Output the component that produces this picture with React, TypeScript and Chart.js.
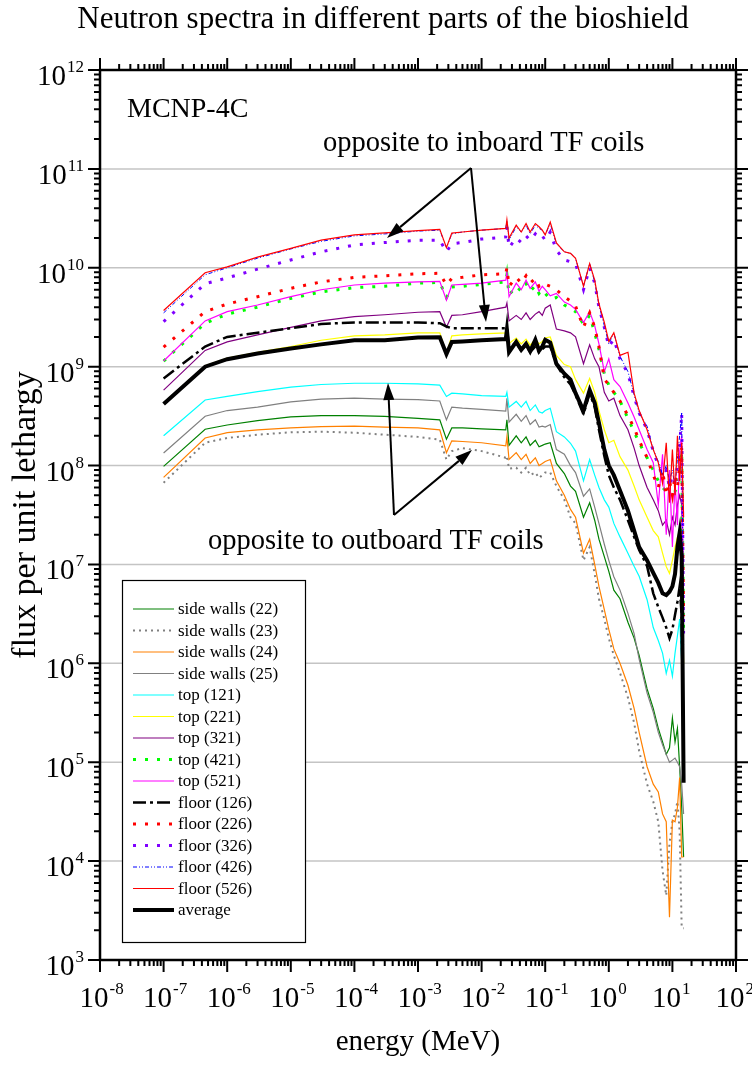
import React, { useEffect, useRef } from 'react';
import { Chart, registerables } from 'chart.js';

Chart.register(...registerables);

// ---------------- data ----------------
const energy = [
  1e-7, 4.5e-7, 1e-6, 3e-6, 1e-5, 3e-5, 1e-4, 3e-4, 1e-3, 2.2e-3,
  2.8e-3, 3.4e-3, 5e-3, 1e-2, 2.4e-2, 2.5e-2, 2.7e-2, 3.5e-2, 4.2e-2, 5e-2,
  5.8e-2, 7e-2, 8e-2, 9e-2, 0.1, 0.12, 0.15, 0.2, 0.25, 0.3,
  0.4, 0.5, 0.6, 0.7, 0.85, 1.0, 1.2, 1.5, 2.0, 2.5,
  3.0, 4.0, 5.0, 6.0, 7.0, 8.0, 9.0, 10, 11, 12,
  13, 14, 15,
];

const sideWalls22 = [
  9.8e7, 2.33e8, 2.57e8, 2.85e8, 3.1e8, 3.2e8, 3.2e8, 3.15e8, 3.0e8, 2.9e8,
  1.85e8, 2.4e8, 2.4e8, 2.35e8, 2.3e8, 2.9e8, 1.6e8, 2.0e8, 1.7e8, 1.95e8,
  1.6e8, 1.8e8, 1.55e8, 1.6e8, 1.65e8, 1.7e8, 1.05e8, 8.3e7, 6.2e7, 5.5e7,
  3.0e7, 4.2e7, 2.8e7, 1.8e7, 1.2e7, 8.5e6, 5.5e6, 4.5e6, 2.6e6, 1.8e6,
  1.2e6, 5.5e5, 3.5e5, 2.2e5, 1.6e5, 1.2e5, 1.4e5, 2.8e5, 1.6e5, 2.2e5,
  9e4, 3.5e4, 1.1e4,
];
const sideWalls23 = [
  6.7e7, 1.7e8, 1.9e8, 2.05e8, 2.17e8, 2.2e8, 2.15e8, 2.05e8, 1.95e8, 1.83e8,
  1.15e8, 1.4e8, 1.5e8, 1.4e8, 1.2e8, 1.25e8, 9.3e7, 9.5e7, 8.5e7, 9.5e7,
  8e7, 8.5e7, 7.5e7, 8e7, 8.5e7, 8.5e7, 6.2e7, 4.5e7, 3.0e7, 2.6e7,
  1.1e7, 1.5e7, 8e6, 4.5e6, 2.8e6, 1.8e6, 1.2e6, 8e5, 4.5e5, 2.5e5,
  1.3e5, 6e4, 4e4, 2.5e4, 8e3, 4.5e3, 1.5e4, 2.5e4, 3e4, 4e4,
  2e4, 2.1e3, 2.1e3,
];
const sideWalls24 = [
  7.6e7, 1.9e8, 2.15e8, 2.3e8, 2.4e8, 2.48e8, 2.5e8, 2.45e8, 2.4e8, 2.3e8,
  1.35e8, 1.78e8, 1.75e8, 1.7e8, 1.58e8, 1.95e8, 1.15e8, 1.35e8, 1.15e8, 1.3e8,
  1.05e8, 1.2e8, 1.0e8, 1.05e8, 1.1e8, 1.15e8, 7.0e7, 5.0e7, 3.6e7, 3.0e7,
  1.3e7, 1.8e7, 1.0e7, 6e6, 3.5e6, 2.2e6, 1.4e6, 1.0e6, 6e5, 3.5e5,
  2.0e5, 9e4, 6e4, 5e4, 3e4, 2.5e4, 2.7e3, 2.6e4, 2.5e4, 3.5e4,
  7e4, 1.1e4, 1.1e4,
];
const sideWalls25 = [
  1.34e8, 3.15e8, 3.6e8, 3.9e8, 4.4e8, 4.7e8, 4.8e8, 4.7e8, 4.65e8, 4.5e8,
  2.9e8, 3.9e8, 3.8e8, 3.7e8, 3.55e8, 4.8e8, 2.75e8, 3.3e8, 2.8e8, 3.2e8,
  2.6e8, 2.9e8, 2.45e8, 2.5e8, 2.45e8, 2.6e8, 1.45e8, 1.3e8, 1.0e8, 8.5e7,
  4.9e7, 5.8e7, 3.8e7, 2.6e7, 1.6e7, 1.1e7, 7.5e6, 5.5e6, 3.2e6, 2.0e6,
  1.1e6, 5e5, 3.2e5, 2.0e5, 1.5e5, 1.2e5, 1.0e5, 1.05e5, 1.1e5, 1.0e5,
  9e4, 6e4, 3e4,
];
const top121 = [
  2.0e8, 4.6e8, 5.0e8, 5.6e8, 6.2e8, 6.6e8, 6.8e8, 6.8e8, 6.7e8, 6.5e8,
  5.0e8, 5.4e8, 5.3e8, 5.1e8, 5.0e8, 5.5e8, 3.9e8, 4.45e8, 3.9e8, 4.45e8,
  3.6e8, 4.1e8, 3.5e8, 3.4e8, 3.6e8, 3.8e8, 2.2e8, 1.95e8, 1.68e8, 1.4e8,
  7e7, 1.15e8, 8e7, 6e7, 4.5e7, 3.8e7, 2.6e7, 1.9e7, 1.3e7, 9.6e6,
  7.6e6, 4.4e6, 2.3e6, 1.7e6, 1.27e6, 7.9e5, 1.07e6, 7.4e5, 1.27e6, 1.9e6,
  2.8e6, 1.0e6, 1.0e5,
];
const top221 = [
  4.3e8, 1.02e9, 1.22e9, 1.4e9, 1.6e9, 1.85e9, 2.05e9, 2.1e9, 2.2e9, 2.2e9,
  1.36e9, 2.05e9, 2.1e9, 2.15e9, 2.2e9, 2.5e9, 1.72e9, 1.95e9, 1.7e9, 1.9e9,
  1.65e9, 1.9e9, 1.7e9, 1.8e9, 1.95e9, 2.0e9, 1.3e9, 1.05e9, 1.0e9, 7.4e8,
  5.4e8, 7.6e8, 5.5e8, 3.6e8, 2.3e8, 1.7e8, 1.8e8, 1.23e8, 9e7, 6.2e7,
  4.5e7, 3e7, 2.2e7, 1.9e7, 1.3e7, 9.5e6, 8.1e6, 1.1e7, 1.5e7, 1.9e7,
  2.2e7, 1.5e7, 1e6,
];
const top321 = [
  5.8e8, 1.46e9, 1.78e9, 2.1e9, 2.5e9, 2.9e9, 3.2e9, 3.35e9, 3.55e9, 3.6e9,
  2.5e9, 3.3e9, 3.35e9, 3.6e9, 4.0e9, 4.4e9, 2.9e9, 3.3e9, 3.0e9, 3.5e9,
  3.0e9, 3.4e9, 3.6e9, 3.3e9, 3.9e9, 4.2e9, 2.4e9, 2.3e9, 2.2e9, 2.0e9,
  1.07e9, 1.66e9, 1.2e9, 1.0e9, 5.5e8, 4.5e8, 4.8e8, 3.2e8, 2.3e8, 1.5e8,
  1e8, 6e7, 4.5e7, 3.5e7, 2.5e7, 2.8e7, 2e7, 3e7, 2.5e7, 4e7,
  5e7, 4e7, 5e6,
];
const top421 = [
  1.14e9, 2.75e9, 3.4e9, 4.0e9, 4.9e9, 5.7e9, 6.3e9, 6.5e9, 7.0e9, 7.1e9,
  5.0e9, 6.4e9, 6.5e9, 6.8e9, 7.2e9, 8.5e9, 5.3e9, 6.5e9, 5.8e9, 6.9e9,
  5.8e9, 6.6e9, 5.5e9, 6.0e9, 5.5e9, 4.8e9, 5.0e9, 4.2e9, 3.9e9, 3.6e9,
  2.7e9, 3.3e9, 2.2e9, 1.5e9, 8.5e8, 6.5e8, 5.5e8, 4.5e8, 3.0e8, 2.2e8,
  1.7e8, 1.2e8, 9e7, 7e7, 6e7, 5.5e7, 5.5e7, 5.5e7, 5.5e7, 6e7,
  8e7, 1.4e8, 2e6,
];
const top521 = [
  1.14e9, 2.9e9, 3.6e9, 4.2e9, 5.1e9, 6.0e9, 6.7e9, 7.0e9, 7.2e9, 7.3e9,
  4.7e9, 6.7e9, 6.8e9, 7.0e9, 7.5e9, 9.1e9, 5.1e9, 7.0e9, 6.0e9, 7.5e9,
  6.2e9, 7.2e9, 5.8e9, 6.5e9, 6.0e9, 5.2e9, 5.5e9, 4.5e9, 4.2e9, 3.8e9,
  2.8e9, 3.6e9, 2.6e9, 1.7e9, 8.9e8, 1.2e9, 7.4e8, 6.3e8, 4.3e8, 3.1e8,
  2.3e8, 1.45e8, 1.07e8, 4e7, 1.3e8, 2e7, 9e7, 1.5e7, 7e7, 2.5e7,
  1.4e8, 2e8, 3e6,
];
const floor126 = [
  7.6e8, 1.6e9, 2.0e9, 2.2e9, 2.45e9, 2.7e9, 2.8e9, 2.8e9, 2.8e9, 2.75e9,
  2.55e9, 2.45e9, 2.45e9, 2.45e9, 2.45e9, 2.5e9, 1.55e9, 1.75e9, 1.45e9, 1.65e9,
  1.4e9, 1.6e9, 1.4e9, 1.5e9, 1.6e9, 1.6e9, 1.05e9, 7.8e8, 6.6e8, 5.2e8,
  3.3e8, 5.4e8, 3.9e8, 2.3e8, 1.25e8, 8.0e7, 6.0e7, 4.5e7, 2.8e7, 1.9e7,
  1.4e7, 9.6e6, 5.1e6, 3.7e6, 2.9e6, 2.3e6, 1.8e6, 2.2e6, 3.1e6, 4.2e6,
  6e6, 3e6, 1e5,
];
const floor226 = [
  1.58e9, 3.6e9, 4.3e9, 5.1e9, 6.2e9, 7.2e9, 8.0e9, 8.3e9, 8.7e9, 8.8e9,
  6.7e9, 7.8e9, 8.0e9, 8.5e9, 8.7e9, 1.0e10, 6.5e9, 8.0e9, 7.0e9, 8.3e9,
  7.0e9, 7.8e9, 6.5e9, 7.0e9, 6.8e9, 6.5e9, 6.0e9, 5.1e9, 4.6e9, 4.1e9,
  2.5e9, 3.5e9, 2.5e9, 1.6e9, 7.5e8, 6.5e8, 5.5e8, 4.5e8, 3.2e8, 2.4e8,
  1.8e8, 1.2e8, 8e7, 6e7, 9e7, 5e7, 7e7, 5e7, 8e7, 6e7,
  1e8, 1.5e8, 3e6,
];
const floor326 = [
  2.85e9, 6.9e9, 7.9e9, 9.7e9, 1.2e10, 1.45e10, 1.7e10, 1.8e10, 1.9e10, 1.9e10,
  1.45e10, 1.75e10, 1.8e10, 1.95e10, 2.05e10, 2.6e10, 1.6e10, 2.0e10, 1.8e10, 2.1e10,
  1.9e10, 2.2e10, 2.0e10, 2.1e10, 1.9e10, 2.3e10, 1.5e10, 1.2e10, 1.15e10, 1.1e10,
  6e9, 1.0e10, 7.0e9, 4.0e9, 2.5e9, 1.6e9, 1.9e9, 1.2e9, 8.5e8, 5.0e8,
  3.4e8, 2.3e8, 1.4e8, 1.0e8, 8e7, 9e7, 6e7, 8e7, 7e7, 1.0e8,
  1.5e8, 3.4e8, 2e6,
];
const floor426 = [
  3.5e9, 8.5e9, 1.0e10, 1.25e10, 1.55e10, 1.85e10, 2.1e10, 2.2e10, 2.35e10, 2.4e10,
  1.6e10, 2.2e10, 2.3e10, 2.4e10, 2.5e10, 3.0e10, 1.9e10, 2.6e10, 2.3e10, 2.7e10,
  2.2e10, 2.7e10, 2.5e10, 2.4e10, 2.15e10, 2.8e10, 1.75e10, 1.45e10, 1.4e10, 1.25e10,
  6.5e9, 1.1e10, 7.2e9, 4.2e9, 2.6e9, 1.7e9, 2.2e9, 1.27e9, 8.9e8, 5.2e8,
  3.4e8, 2.5e8, 1.45e8, 1.1e8, 8e7, 1e8, 7e7, 9e7, 6e7, 1.2e8,
  2e8, 3.4e8, 1.5e6,
];
const floor526 = [
  3.7e9, 8.9e9, 1.02e10, 1.28e10, 1.57e10, 1.9e10, 2.15e10, 2.25e10, 2.37e10, 2.45e10,
  1.6e10, 2.24e10, 2.3e10, 2.4e10, 2.5e10, 3.05e10, 2.0e10, 2.7e10, 2.3e10, 2.8e10,
  2.3e10, 2.8e10, 2.6e10, 2.4e10, 2.15e10, 2.9e10, 1.78e10, 1.45e10, 1.4e10, 1.25e10,
  6.5e9, 1.1e10, 7.5e9, 4.3e9, 2.8e9, 1.8e9, 2.2e9, 1.3e9, 1.4e9, 5.4e8,
  3.6e8, 2.3e8, 1.45e8, 1.07e8, 6.6e7, 1.7e8, 4.2e7, 1.45e8, 5e7, 2e8,
  7e7, 1.7e8, 3e7,
];
const average = [
  4.2e8, 1.0e9, 1.19e9, 1.36e9, 1.53e9, 1.68e9, 1.85e9, 1.85e9, 1.97e9, 1.98e9,
  1.34e9, 1.78e9, 1.8e9, 1.85e9, 1.9e9, 2.35e9, 1.4e9, 1.78e9, 1.48e9, 1.7e9,
  1.43e9, 1.87e9, 1.45e9, 1.6e9, 1.87e9, 1.75e9, 1.07e9, 8.5e8, 7.4e8, 5.4e8,
  3.6e8, 5.8e8, 4.3e8, 2.7e8, 1.45e8, 1.0e8, 8.0e7, 5.6e7, 3.5e7, 2.2e7,
  1.5e7, 1.1e7, 8.2e6, 6.5e6, 5.1e6, 4.9e6, 5.3e6, 6.0e6, 8e6, 1.5e7,
  2.1e7, 1.2e7, 6.2e4,
];

const seriesLabels = [
  'side walls (22)', 'side walls (23)', 'side walls (24)', 'side walls (25)',
  'top (121)', 'top (221)', 'top (321)', 'top (421)', 'top (521)',
  'floor (126)', 'floor (226)', 'floor (326)', 'floor (426)', 'floor (526)', 'average',
];
const seriesValues = [
  sideWalls22, sideWalls23, sideWalls24, sideWalls25,
  top121, top221, top321, top421, top521,
  floor126, floor226, floor326, floor426, floor526, average,
];

const xExponents = [-8, -7, -6, -5, -4, -3, -2, -1, 0, 1, 2];
const yExponents = [3, 4, 5, 6, 7, 8, 9, 10, 11, 12];

// ---------------- styles ----------------
type Sty = { color: string; width: number; dash: number[] };
const styles: Sty[] = [
  { color: '#008000', width: 1.2, dash: [] },
  { color: '#808080', width: 2, dash: [2, 4] },
  { color: '#ff8000', width: 1.2, dash: [] },
  { color: '#808080', width: 1.2, dash: [] },
  { color: '#00ffff', width: 1.2, dash: [] },
  { color: '#ffff00', width: 1.2, dash: [] },
  { color: '#800080', width: 1.2, dash: [] },
  { color: '#00ff00', width: 3, dash: [3, 9] },
  { color: '#ff00ff', width: 1.2, dash: [] },
  { color: '#000000', width: 2.5, dash: [13, 4, 3, 4] },
  { color: '#ff0000', width: 3, dash: [3, 9] },
  { color: '#8000ff', width: 3, dash: [3, 9] },
  { color: '#0000ff', width: 1, dash: [4, 2, 1, 2, 1, 2] },
  { color: '#ff0000', width: 1.2, dash: [] },
  { color: '#000000', width: 4, dash: [] },
];

const SERIF = '"Liberation Serif", "Times New Roman", serif';

function drawPow(ctx: CanvasRenderingContext2D, exp: number, x: number, y: number, mode: 'right' | 'center') {
  const base = '10';
  const sup = String(exp);
  ctx.font = `29px ${SERIF}`;
  const wb = ctx.measureText(base).width;
  ctx.font = `17px ${SERIF}`;
  const ws = ctx.measureText(sup).width;
  let bx: number;
  if (mode === 'right') bx = x - wb - ws - 1;
  else bx = x - wb / 2 - 6;
  ctx.textAlign = 'left';
  ctx.textBaseline = 'alphabetic';
  ctx.font = `29px ${SERIF}`;
  ctx.fillText(base, bx, y);
  ctx.font = `17px ${SERIF}`;
  ctx.fillText(sup, bx + wb + 1, y - 13);
}

function arrow(ctx: CanvasRenderingContext2D, x0: number, y0: number, x1: number, y1: number) {
  const ang = Math.atan2(y1 - y0, x1 - x0);
  const L = 17, W = 5.5;
  const bx = x1 - L * Math.cos(ang), by = y1 - L * Math.sin(ang);
  ctx.beginPath();
  ctx.moveTo(x0, y0);
  ctx.lineTo(bx, by);
  ctx.stroke();
  ctx.beginPath();
  ctx.moveTo(x1, y1);
  ctx.lineTo(bx + W * Math.sin(ang), by - W * Math.cos(ang));
  ctx.lineTo(bx - W * Math.sin(ang), by + W * Math.cos(ang));
  ctx.closePath();
  ctx.fill();
}

const decor = {
  id: 'decor',
  beforeDatasetsDraw(chart: any) {
    const { ctx, chartArea: a, scales } = chart;
    const ys = scales.y;
    ctx.save();
    ctx.strokeStyle = '#c4c4c4';
    ctx.lineWidth = 1.5;
    for (const e of yExponents) {
      if (e === yExponents[0] || e === yExponents[yExponents.length - 1]) continue;
      const py = ys.getPixelForValue(Math.pow(10, e));
      ctx.beginPath();
      ctx.moveTo(a.left, py);
      ctx.lineTo(a.right, py);
      ctx.stroke();
    }
    ctx.restore();
  },
  afterDraw(chart: any) {
    const { ctx, chartArea: a, scales } = chart;
    const xs = scales.x, ys = scales.y;
    ctx.save();
    ctx.fillStyle = '#000';
    ctx.strokeStyle = '#000';

    // box
    ctx.lineWidth = 2.5;
    ctx.strokeRect(a.left, a.top, a.right - a.left, a.bottom - a.top);

    // ticks
    ctx.lineWidth = 2;
    ctx.beginPath();
    for (let i = 0; i < xExponents.length; i++) {
      const e = xExponents[i];
      const px = xs.getPixelForValue(Math.pow(10, e));
      ctx.moveTo(px, a.bottom); ctx.lineTo(px, a.bottom + 12);
      ctx.moveTo(px, a.top); ctx.lineTo(px, a.top - 12);
      if (i < xExponents.length - 1) {
        for (let m = 2; m <= 9; m++) {
          const q = xs.getPixelForValue(m * Math.pow(10, e));
          ctx.moveTo(q, a.bottom); ctx.lineTo(q, a.bottom + 6);
          ctx.moveTo(q, a.top); ctx.lineTo(q, a.top - 6);
        }
      }
    }
    for (let i = 0; i < yExponents.length; i++) {
      const e = yExponents[i];
      const py = ys.getPixelForValue(Math.pow(10, e));
      ctx.moveTo(a.left, py); ctx.lineTo(a.left - 12, py);
      ctx.moveTo(a.right, py); ctx.lineTo(a.right + 12, py);
      if (i < yExponents.length - 1) {
        for (let m = 2; m <= 9; m++) {
          const q = ys.getPixelForValue(m * Math.pow(10, e));
          ctx.moveTo(a.left, q); ctx.lineTo(a.left - 6, q);
          ctx.moveTo(a.right, q); ctx.lineTo(a.right + 6, q);
        }
      }
    }
    ctx.stroke();

    // tick labels
    for (const e of xExponents) {
      const px = xs.getPixelForValue(Math.pow(10, e));
      drawPow(ctx, e, px, a.bottom + 47, 'center');
    }
    for (const e of yExponents) {
      const py = ys.getPixelForValue(Math.pow(10, e));
      drawPow(ctx, e, a.left - 16, py + 15, 'right');
    }

    // titles
    ctx.textAlign = 'center';
    ctx.textBaseline = 'alphabetic';
    ctx.font = `31px ${SERIF}`;
    ctx.fillText('Neutron spectra in different parts of the bioshield', 383, 28);
    ctx.font = `29px ${SERIF}`;
    ctx.fillText('energy (MeV)', (a.left + a.right) / 2, 1050);
    ctx.save();
    ctx.translate(35, 515);
    ctx.rotate(-Math.PI / 2);
    ctx.font = `34px ${SERIF}`;
    ctx.fillText('flux per unit lethargy', 0, 0);
    ctx.restore();

    // annotations
    ctx.textAlign = 'left';
    ctx.font = `28px ${SERIF}`;
    ctx.fillText('MCNP-4C', 127, 117);
    ctx.font = `28.5px ${SERIF}`;
    ctx.fillText('opposite to inboard TF coils', 323, 151);
    ctx.fillText('opposite to outboard TF coils', 208, 549);
    ctx.lineWidth = 2;
    arrow(ctx, 471, 168, 387, 238);
    arrow(ctx, 471, 168, 486, 322);
    arrow(ctx, 394, 515, 388, 383);
    arrow(ctx, 394, 515, 472, 450);

    // legend
    const lx = 122, ly = 580, lw = 183, lh = 362;
    ctx.fillStyle = '#fff';
    ctx.fillRect(lx, ly, lw, lh);
    ctx.lineWidth = 1.2;
    ctx.strokeStyle = '#000';
    ctx.strokeRect(lx + 0.5, ly + 0.5, lw, lh);
    ctx.font = `17px ${SERIF}`;
    ctx.textBaseline = 'middle';
    for (let i = 0; i < seriesLabels.length; i++) {
      const yy = 609 + i * 21.5;
      const s = styles[i];
      ctx.strokeStyle = s.color;
      ctx.lineWidth = s.width;
      ctx.setLineDash(s.dash);
      ctx.beginPath();
      ctx.moveTo(133, yy);
      ctx.lineTo(174, yy);
      ctx.stroke();
      ctx.setLineDash([]);
      ctx.fillStyle = '#000';
      ctx.fillText(seriesLabels[i], 178, yy + 1);
    }
    ctx.restore();
  },
};

export default function App() {
  const ref = useRef<HTMLCanvasElement>(null);
  useEffect(() => {
    const datasets = seriesValues.map((vals, i) => ({
      label: seriesLabels[i],
      data: energy.map((e, j) => ({ x: e, y: vals[j] })),
      borderColor: styles[i].color,
      borderWidth: styles[i].width,
      borderDash: styles[i].dash,
      pointRadius: 0,
      fill: false,
      tension: 0,
      order: seriesValues.length - i,
    }));
    const chart = new Chart(ref.current as HTMLCanvasElement, {
      type: 'line',
      data: { datasets },
      plugins: [decor],
      options: {
        animation: false,
        responsive: false,
        devicePixelRatio: 1,
        layout: { padding: { left: 100, right: 16, top: 70, bottom: 106 } },
        plugins: { legend: { display: false }, tooltip: { enabled: false }, title: { display: false } },
        scales: {
          x: { type: 'logarithmic', min: 1e-8, max: 1e2, display: false },
          y: { type: 'logarithmic', min: 1e3, max: 1e12, display: false },
        },
      },
    } as any);
    return () => chart.destroy();
  }, []);
  return (
    <div style={{ position: 'absolute', left: 0, top: 0, width: 752, height: 1066, background: '#fff' }}>
      <canvas ref={ref} width={752} height={1066} style={{ width: 752, height: 1066, display: 'block' }} />
    </div>
  );
}
